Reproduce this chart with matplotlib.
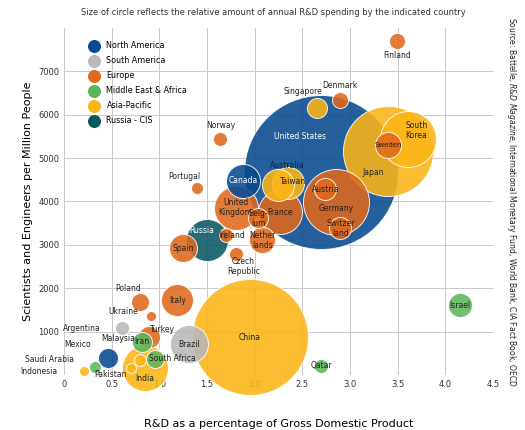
import numpy as np
import matplotlib.pyplot as plt

countries = ['United States', 'Japan', 'South\nKorea', 'Sweden', 'Finland', 'Denmark', 'Singapore',
             'Norway', 'Portugal', 'Canada', 'Australia', 'Taiwan', 'Germany', 'Austria',
             'Switzer\nland', 'France', 'United\nKingdom', 'Belg-\nium', 'Nether\nlands', 'Ireland',
             'Russia', 'Spain', 'Czech\nRepublic', 'Poland', 'Italy', 'Ukraine', 'Argentina',
             'Turkey', 'Iran', 'Brazil', 'China', 'Mexico', 'Malaysia', 'South Africa',
             'Pakistan', 'India', 'Saudi Arabia', 'Indonesia', 'Qatar', 'Israel']
rd_gdp = [2.70, 3.40, 3.61, 3.40, 3.49, 2.89, 2.65, 1.64, 1.39, 1.88, 2.24, 2.35, 2.85, 2.74,
          2.90, 2.27, 1.80, 2.04, 2.08, 1.70, 1.50, 1.25, 1.80, 0.80, 1.19, 0.91, 0.61,
          0.89, 0.82, 1.31, 1.95, 0.46, 0.80, 0.95, 0.70, 0.85, 0.32, 0.21, 2.70, 4.15]
sci_per_m = [4690, 5170, 5450, 5290, 7700, 6340, 6160, 5450, 4300, 4480, 4370, 4420, 3980, 4280,
             3380, 3750, 3860, 3610, 3100, 3220, 3100, 2920, 2780, 1680, 1720, 1360, 1080,
             870, 760, 710, 870, 390, 340, 370, 160, 160, 180, 90, 210, 1610]
# circle radius in pixels (relative R&D spending)
radius_px = [77, 45, 28, 13, 8, 8, 10, 7, 6, 17, 16, 16, 33, 11,
             11, 22, 22, 10, 13, 7, 21, 14, 7, 9, 16, 5, 7,
             11, 10, 19, 58, 10, 6, 9, 5, 23, 6, 5, 7, 12]
region = ['NA', 'AP', 'AP', 'EU', 'EU', 'EU', 'AP', 'EU', 'EU', 'NA', 'AP', 'AP', 'EU', 'EU',
          'EU', 'EU', 'EU', 'EU', 'EU', 'EU', 'RU', 'EU', 'EU', 'EU', 'EU', 'EU', 'SA',
          'EU', 'ME', 'SA', 'AP', 'NA', 'AP', 'ME', 'AP', 'AP', 'ME', 'AP', 'ME', 'ME']

region_names = {'NA': 'North America', 'SA': 'South America', 'EU': 'Europe',
                'ME': 'Middle East & Africa', 'AP': 'Asia-Pacific', 'RU': 'Russia - CIS'}
region_colors = {'NA': '#084a8e', 'SA': '#b9b9b9', 'EU': '#e0691c',
                 'ME': '#5db65a', 'AP': '#fbb517', 'RU': '#0a5762'}

# labels placed outside their circle: name -> (dx, dy) offset in pixels
outside = {'Finland': (0, -15), 'Denmark': (0, 14), 'Singapore': (-14, 16), 'Norway': (0, 13),
           'Portugal': (-12, 12), 'Australia': (10, 20), 'Czech\nRepublic': (8, -12),
           'Poland': (-12, 14), 'Ukraine': (-28, 4), 'Argentina': (-40, 0), 'Turkey': (14, 8),
           'Mexico': (-30, 14), 'Malaysia': (-22, 22), 'Pakistan': (-20, -6),
           'Saudi Arabia': (-45, 8), 'Indonesia': (-45, 0), 'South Africa': (18, 0),
           'India': (0, -10)}
inside_offset = {'United States': (-21, 35), 'Japan': (-15, -22), 'Germany': (0, -6),
                 'South\nKorea': (8, 8), 'Taiwan': (5, 2), 'Ireland': (6, 0),
                 'Russia': (-5, 10), 'India': (0, -10)}
white_text = ['United States', 'Canada', 'Russia', 'Australia']

fig = plt.figure(figsize=(5.25, 4.3), dpi=100)
ax = fig.add_axes([0.122, 0.128, 0.817, 0.807])
ax.set_xlim(0, 4.5)
ax.set_ylim(0, 8000)

order = np.argsort(radius_px)[::-1]
for i in order:
    s = (2 * radius_px[i] * 0.72) ** 2
    ax.scatter(rd_gdp[i], sci_per_m[i], s=s, color=region_colors[region[i]], alpha=0.88,
               edgecolors='white', linewidths=0.7, zorder=3, clip_on=False)

for i, name in enumerate(countries):
    col = 'white' if name in white_text else '#222222'
    fs = 5.0 if name == 'Sweden' else 5.5
    if name in outside:
        dx, dy = outside[name]
        ax.annotate(name, (rd_gdp[i], sci_per_m[i]), xytext=(dx * 0.72, dy * 0.72),
                    textcoords='offset points', ha='center', va='center', fontsize=fs,
                    color='#222222', zorder=5)
    else:
        dx, dy = inside_offset.get(name, (0, 0))
        ax.annotate(name, (rd_gdp[i], sci_per_m[i]), xytext=(dx * 0.72, dy * 0.72),
                    textcoords='offset points', ha='center', va='center', fontsize=fs,
                    color=col, zorder=5, linespacing=1.1)

ax.set_xticks(np.arange(0, 4.51, 0.5))
ax.set_xticklabels(['0'] + ['%.1f' % v for v in np.arange(0.5, 4.51, 0.5)])
ax.set_yticks(range(1000, 8000, 1000))
ax.tick_params(labelsize=6, length=0, colors='#333333')
ax.grid(True, color='#c8c8d0', lw=0.7, zorder=0)
ax.set_axisbelow(True)
for sp in ax.spines.values():
    sp.set_visible(False)

ax.set_xlabel('R&D as a percentage of Gross Domestic Product', fontsize=8, labelpad=22)
ax.set_ylabel('Scientists and Engineers per Million People', fontsize=8)
fig.text(0.52, 0.965, 'Size of circle reflects the relative amount of annual R&D spending by the indicated country',
         ha='center', fontsize=6, color='#333333')
fig.text(0.975, 0.53, 'Source: Battelle, $\\it{R&D\\ Magazine}$, International Monetary Fund, World Bank, CIA Fact Book, OECD',
         rotation=-90, ha='center', va='center', fontsize=5.5, color='#222222')

for key in ['NA', 'SA', 'EU', 'ME', 'AP', 'RU']:
    ax.scatter([], [], s=70, color=region_colors[key], label=region_names[key])
ax.legend(loc='upper left', frameon=False, fontsize=5.8, handletextpad=0.6,
          labelspacing=0.75, borderaxespad=1.2, bbox_to_anchor=(0.02, 1.0))

fig.savefig('out.png', dpi=100)
